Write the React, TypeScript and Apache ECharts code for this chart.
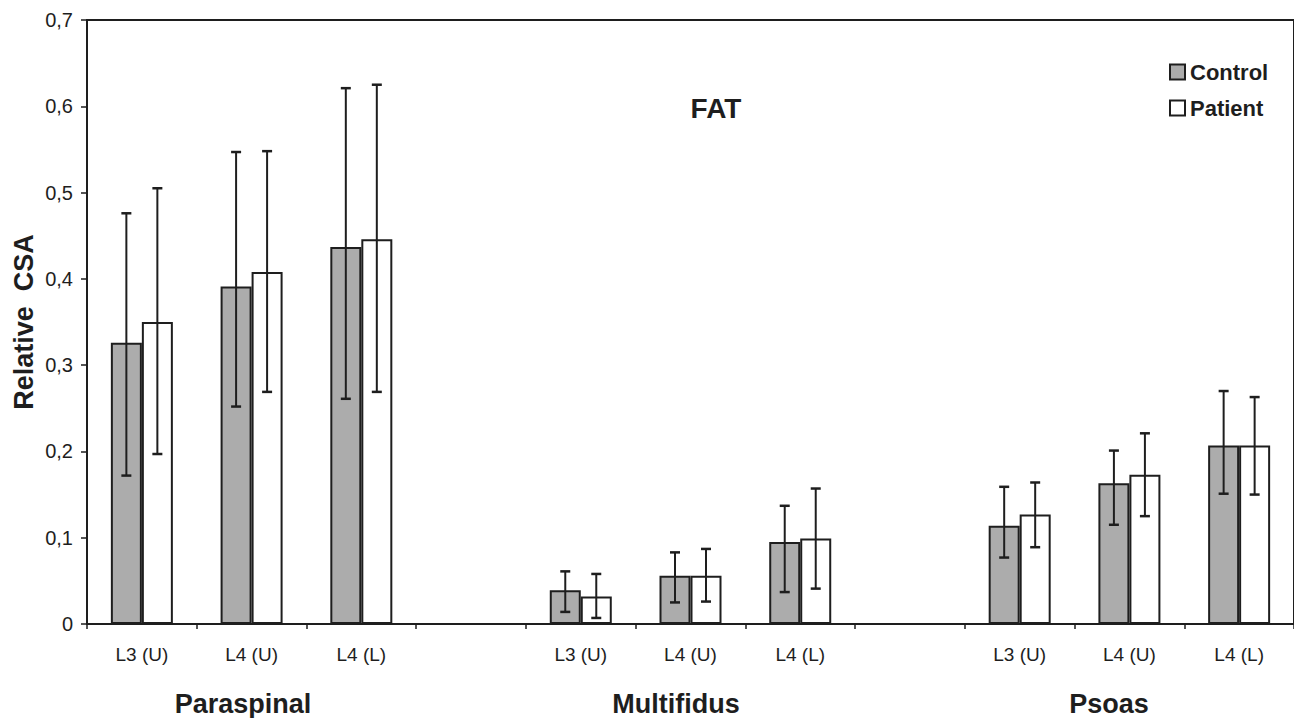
import React, { useEffect, useRef } from "react";
import * as echarts from "echarts";

const categories = ["L3 (U)", "L4 (U)", "L4 (L)", "", "L3 (U)", "L4 (U)", "L4 (L)", "", "L3 (U)", "L4 (U)", "L4 (L)"];
const controlMean = [0.326, 0.391, 0.437, null, 0.039, 0.056, 0.095, null, 0.114, 0.163, 0.207];
const controlLow = [0.172, 0.252, 0.261, null, 0.014, 0.025, 0.037, null, 0.077, 0.115, 0.151];
const controlHigh = [0.476, 0.547, 0.621, null, 0.061, 0.083, 0.137, null, 0.159, 0.201, 0.270];
const patientMean = [0.350, 0.408, 0.446, null, 0.032, 0.056, 0.099, null, 0.127, 0.173, 0.207];
const patientLow = [0.197, 0.269, 0.269, null, 0.007, 0.026, 0.041, null, 0.089, 0.125, 0.150];
const patientHigh = [0.505, 0.548, 0.625, null, 0.058, 0.087, 0.157, null, 0.164, 0.221, 0.263];
const groupLabels = ["Paraspinal", "Multifidus", "Psoas"];
const seriesNames = ["Control", "Patient"];
const chartTitle = "FAT";
const yAxisTitle = "Relative  CSA";

const FONT = "'Liberation Sans', Arial, sans-serif";
const INK = "#1e1e1e";
const BAR_W = 31;

function errorData(low: (number | null)[], high: (number | null)[]) {
  const out: any[] = [];
  low.forEach((l, i) => {
    const h = high[i];
    if (l != null && h != null) out.push([i, l, h]);
  });
  return out;
}

function makeErrorRender(offset: number) {
  return (params: any, api: any) => {
    const lo = api.coord([api.value(0), api.value(1)]);
    const hi = api.coord([api.value(0), api.value(2)]);
    const x = lo[0] + offset;
    const cap = 5;
    const style = { stroke: INK, lineWidth: 2 };
    return {
      type: "group",
      children: [
        { type: "line", shape: { x1: x, y1: lo[1], x2: x, y2: hi[1] }, style },
        { type: "line", shape: { x1: x - cap, y1: hi[1], x2: x + cap, y2: hi[1] }, style: { stroke: INK, lineWidth: 2.5 } },
        { type: "line", shape: { x1: x - cap, y1: lo[1], x2: x + cap, y2: lo[1] }, style: { stroke: INK, lineWidth: 2.5 } },
      ],
    };
  };
}

export default function App() {
  const ref = useRef<HTMLDivElement>(null);
  useEffect(() => {
    if (!ref.current) return;
    const chart = echarts.init(ref.current, null, { renderer: "svg" });
    const boldText = (text: string, x: number, y: number, size: number, rotation = 0) => ({
      type: "text",
      x,
      y,
      rotation,
      style: {
        text,
        textAlign: "center",
        textVerticalAlign: "middle",
        fontFamily: FONT,
        fontWeight: "bold",
        fontSize: size,
        fill: INK,
      },
    });
    const option: any = {
      animation: false,
      backgroundColor: "#ffffff",
      textStyle: { fontFamily: FONT },
      grid: {
        left: 87,
        top: 20,
        width: 1221,
        height: 604,
        show: true,
        borderColor: INK,
        borderWidth: 2,
        backgroundColor: "transparent",
      },
      legend: {
        data: seriesNames,
        orient: "vertical",
        left: 1164,
        top: 56,
        itemWidth: 15,
        itemHeight: 15,
        itemGap: 14,
        icon: "rect",
        textStyle: { fontSize: 22, fontWeight: "bold", color: INK, fontFamily: FONT },
      },
      xAxis: {
        type: "category",
        data: categories,
        axisLine: { show: true, lineStyle: { color: INK, width: 2 } },
        axisTick: { show: true, interval: 0, length: 5, lineStyle: { color: INK, width: 1.5 } },
        axisLabel: { interval: 0, margin: 21, fontSize: 19, color: INK, fontFamily: FONT },
        splitLine: { show: false },
      },
      yAxis: {
        type: "value",
        min: 0,
        max: 0.7,
        interval: 0.1,
        splitLine: { show: false },
        axisLine: { show: true, lineStyle: { color: INK, width: 2 } },
        axisTick: { show: true, length: 6, lineStyle: { color: INK, width: 1.5 } },
        axisLabel: {
          margin: 14,
          fontSize: 20,
          color: INK,
          fontFamily: FONT,
          formatter: (v: number) => (v === 0 ? "0" : v.toFixed(1).replace(".", ",")),
        },
      },
      series: [
        {
          name: seriesNames[0],
          type: "bar",
          data: controlMean,
          barWidth: BAR_W,
          barGap: "0%",
          itemStyle: { color: "#acacac", borderColor: INK, borderWidth: 2 },
        },
        {
          name: seriesNames[1],
          type: "bar",
          data: patientMean,
          barWidth: BAR_W,
          barGap: "0%",
          itemStyle: { color: "#ffffff", borderColor: INK, borderWidth: 2 },
        },
        {
          type: "custom",
          name: "ctrlErr",
          data: errorData(controlLow, controlHigh),
          encode: { x: 0, y: [1, 2] },
          renderItem: makeErrorRender(-BAR_W / 2),
          z: 10,
        },
        {
          type: "custom",
          name: "patErr",
          data: errorData(patientLow, patientHigh),
          encode: { x: 0, y: [1, 2] },
          renderItem: makeErrorRender(BAR_W / 2),
          z: 10,
        },
      ],
      graphic: [
        boldText(chartTitle, 716, 108, 28),
        boldText(groupLabels[0], 243, 704, 27),
        boldText(groupLabels[1], 676, 704, 27),
        boldText(groupLabels[2], 1109, 704, 27),
        boldText(yAxisTitle, 24, 322, 27, Math.PI / 2),
      ],
    };
    chart.setOption(option);
    return () => chart.dispose();
  }, []);
  return (
    <div
      ref={ref}
      style={{ position: "absolute", left: 0, top: 0, width: 1294, height: 718 }}
    />
  );
}
